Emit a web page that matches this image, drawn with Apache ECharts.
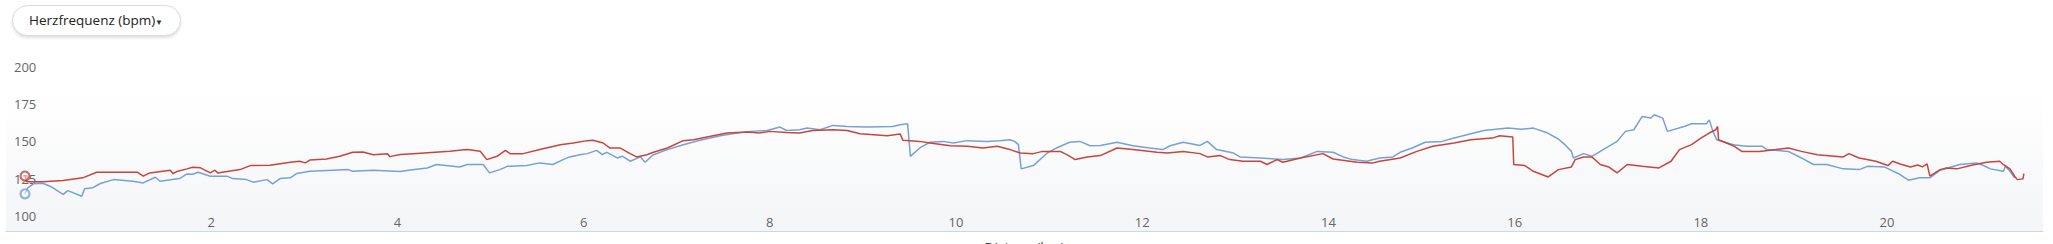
<!DOCTYPE html>
<html>
<head>
<meta charset="utf-8">
<script src="https://cdn.jsdelivr.net/npm/echarts@6/dist/echarts.min.js"></script>
<style>
  html, body { margin: 0; padding: 0; background: #fff; overflow: hidden; }
  #chart { width: 2053px; height: 244px; position: absolute; left: 0; top: 0; }
  #btn {
    position: absolute; left: 12px; top: 5px; width: 167px; height: 29px;
    border: 1px solid #dcdcdc; border-radius: 16px; background: #fff;
    box-shadow: 0 2px 3px rgba(0,0,0,0.12);
    font-family: "Open Sans", sans-serif; font-size: 13.5px; color: #222;
    line-height: 29px; box-sizing: content-box; z-index: 2;
  }
  #btn .lbl { position: absolute; left: 16px; top: 0; }
  #btn .arr { position: absolute; left: 142px; top: 1px; font-size: 8px; color: #333; }
</style>
</head>
<body>
<div id="chart"></div>
<div id="btn"><span class="lbl">Herzfrequenz (bpm)</span><span class="arr">&#9660;</span></div>
<script>
const yTickLabels = [100, 125, 150, 175, 200];
const xTickLabels = [2, 4, 6, 8, 10, 12, 14, 16, 18, 20];
const xAxisName = 'Distanz (km)';

const redKm = [0.00,0.02,0.19,0.41,0.62,0.77,1.21,1.27,1.34,1.56,1.59,1.63,1.74,1.80,1.88,1.99,2.04,2.07,2.17,2.31,2.42,2.63,2.85,2.95,3.01,3.06,3.24,3.38,3.52,3.63,3.74,3.89,3.92,4.03,
  4.17,4.56,4.75,4.89,4.96,5.07,5.16,5.21,5.35,5.53,5.75,5.89,6.04,6.10,6.21,6.28,6.39,6.50,6.57,6.68,6.75,6.90,7.07,7.18,7.39,7.54,7.76,7.89,8.00,8.18,8.32,8.46,8.68,8.83,8.97,9.26,9.40,9.43,
  9.61,9.72,9.94,10.12,10.29,10.44,10.58,10.69,10.83,10.93,11.12,11.19,11.28,11.41,11.55,11.73,11.90,12.16,12.27,12.44,12.62,12.70,12.84,12.94,13.08,13.27,13.34,13.45,13.51,13.70,13.94,14.05,14.31,14.48,14.55,14.77,
  14.95,15.12,15.35,15.53,15.76,15.84,15.98,15.99,16.11,16.20,16.34,16.36,16.47,16.61,16.65,16.74,16.83,16.92,17.01,17.10,17.21,17.37,17.55,17.68,17.77,17.90,18.00,18.09,18.16,18.18,18.19,18.36,18.44,18.63,18.81,18.94,19.08,19.25,19.53,19.59,19.70,19.88,20.01,20.06,
  20.14,20.25,20.33,20.38,20.43,20.46,20.57,20.64,20.75,20.92,21.07,21.21,21.24,21.32,21.37,21.40,21.46,21.47];
const redHr = [126.8,123,123,123.8,125.6,129.3,129.3,126.7,128.9,130.7,128.5,129.8,131.6,132.7,132.4,128.9,130.7,128.9,129.8,131.1,133.8,134,136,136.7,135.6,137.5,138.2,140,142.7,142.9,141.1,141.8,139.8,141.2,
  141.8,143.4,144.5,143.4,137.8,140,144,141.8,141.8,144.5,147.8,148.9,150.5,150.7,148.9,145.6,145.6,141.8,139.6,141.1,142.7,145.6,150.5,151.1,153.8,155.6,156.2,155.6,156.7,156,155.6,157.3,157.8,157.3,155.1,153.8,155,150.7,
  150,148.9,147.1,146.7,145.6,146.7,144.5,142.2,141.8,143.3,143.3,141.1,137.8,139.6,140.5,145.6,144.5,142.7,142.2,143.3,141.8,139.6,140.5,137.8,136.7,136.7,134.5,137.8,136,138.9,141.8,138.2,136,135.6,136.7,138.9,
  143.3,146.7,148.9,151.1,152.2,153.8,152.9,134.5,133.8,130,126.7,126.2,131.1,132.9,137.8,139.6,139.6,134.5,132.9,128.9,134.5,133.3,132.2,136.7,144.5,147.8,152.2,155.6,157.8,160,151.1,146.7,143.3,143.3,144.5,145.6,143.3,141.1,139.6,141.8,138.9,136.7,133.8,136.7,
  134.9,132.9,134.2,132.9,134.9,126.7,131.1,132.2,131.6,134.2,136,136.7,135,131.6,126.7,124.4,124.9,128.4];

const blueKm = [0.00,0.03,0.09,0.19,0.27,0.41,0.46,0.61,0.64,0.73,0.81,0.95,1.16,1.27,1.40,1.45,1.66,1.74,1.80,1.86,1.99,2.17,2.23,2.38,2.45,2.60,2.66,2.74,2.85,2.92,3.06,3.31,3.47,3.52,3.74,4.03,
  4.14,4.32,4.42,4.67,4.75,4.92,4.99,5.10,5.18,5.39,5.53,5.67,5.78,5.85,5.96,6.04,6.14,6.20,6.25,6.36,6.42,6.50,6.61,6.66,6.75,6.90,7.07,7.25,7.47,7.60,7.79,7.97,8.11,8.18,8.32,8.40,8.54,8.68,8.83,9.04,9.32,9.40,
  9.48,9.51,9.61,9.72,9.86,9.97,10.12,10.33,10.47,10.58,10.63,10.67,10.70,10.83,10.98,11.08,11.22,11.33,11.44,11.55,11.73,11.90,12.08,12.22,12.30,12.44,12.62,12.70,12.80,12.98,13.05,13.27,13.51,13.70,13.88,14.05,14.16,14.26,14.41,14.55,14.69,14.77,
  14.90,15.04,15.22,15.35,15.53,15.67,15.93,16.07,16.20,16.34,16.47,16.54,16.61,16.63,16.74,16.83,16.92,17.10,17.19,17.28,17.37,17.46,17.50,17.59,17.64,17.82,17.90,18.06,18.09,18.13,18.17,18.35,18.49,18.66,18.71,18.94,19.08,19.21,19.35,19.53,19.70,19.79,19.97,
  20.14,20.23,20.35,20.46,20.57,20.78,20.96,21.03,21.11,21.25,21.27,21.32,21.37];
const blueHr = [114.9,118.9,121.6,122,120,114.5,117,113.3,118.3,119,121.8,124.4,123.3,122.2,126,123.3,125.1,128.2,128,129.3,126.7,126.7,125.1,124.4,122.7,124.4,121.6,125.1,125.6,128.5,130,130.7,131.1,130,130.7,129.8,
  130.9,132.2,134.5,132.9,134.5,134.5,128.9,131.1,133.3,133.8,135.6,134.5,137.8,139.6,141.1,141.8,144,141.1,142.7,138.9,140,136.7,139.6,136,141.1,144.5,147.8,150.7,153.8,155.1,156.7,157.3,159.6,157.3,157.8,158.9,157.8,160.7,160,159.6,160,161.1,
  161.8,140,145.6,149.4,150,148.9,150.5,150,150.5,151.1,150,147.8,131.6,133.8,142.2,145.6,149.4,150,147.1,147.3,149.4,147.1,145.6,144.5,147.1,149.4,147.3,150,144.5,142.2,139.6,138.9,137.8,138.9,143.3,142.7,139.6,137.8,136.7,138.9,139.6,142.7,
  145.6,149.4,150,152.2,155.1,157.3,158.9,158.2,158.9,156,151.6,147.8,143.3,138.9,141.8,140,143.3,150,156.7,157.8,166.7,165.6,167.8,165.6,156.7,160,161.8,161.8,164.4,156.7,151.1,147.8,146.7,146.7,144.5,143.3,138.9,134.5,134.5,131.6,131.1,133.3,132.9,
  127.8,124,125.6,125.6,130.7,134.5,135.6,134,131.6,130,133.3,130,125.6];

const RED = '#c9453c';
const BLUE = '#77a1d5';

const zip = (xs, ys) => xs.map((x, i) => [x, ys[i]]);

const chart = echarts.init(document.getElementById('chart'), null, { renderer: 'svg' });
chart.setOption({
  animation: false,
  backgroundColor: '#ffffff',
  textStyle: { fontFamily: '"Open Sans", sans-serif' },
  graphic: [{
    type: 'rect', z: -10, silent: true,
    shape: { x: 6, y: 93, width: 2037, height: 138 },
    style: { fill: new echarts.graphic.LinearGradient(0, 0, 0, 1, [
      { offset: 0, color: '#ffffff' }, { offset: 1, color: '#f4f5f7' }]) }
  }],
  grid: { left: 6, right: 10, top: 66.7, bottom: 13, containLabel: false, outerBoundsMode: 'none' },
  xAxis: {
    type: 'value', min: -0.204, max: 21.675,
    name: xAxisName, nameLocation: 'middle', nameGap: 9,
    nameTextStyle: { color: '#444', fontSize: 14, verticalAlign: 'top' },
    axisLine: { show: true, lineStyle: { color: '#ccd6eb', width: 1 } },
    axisTick: { show: false },
    splitLine: { show: false },
    axisLabel: { inside: true, margin: 3, color: '#666', fontSize: 13, customValues: xTickLabels }
  },
  yAxis: {
    type: 'value', min: 90, max: 200,
    axisLine: { show: false }, axisTick: { show: false }, splitLine: { show: false },
    axisLabel: { inside: true, margin: 8, color: '#666', fontSize: 13, customValues: yTickLabels, align: 'left' }
  },
  series: [
    { type: 'line', data: zip(redKm, redHr), showSymbol: false, symbol: 'none',
      lineStyle: { color: RED, width: 1.5 }, z: 3 },
    { type: 'line', data: zip(blueKm, blueHr), showSymbol: false, symbol: 'none',
      lineStyle: { color: BLUE, width: 1.5 }, z: 2 },
    { type: 'scatter', data: [[redKm[0], redHr[0]]], symbol: 'circle', symbolSize: 9,
      itemStyle: { color: 'rgba(255,255,255,0.6)', borderColor: RED, borderWidth: 2.2 }, z: 5 },
    { type: 'scatter', data: [[blueKm[0], blueHr[0]]], symbol: 'circle', symbolSize: 9,
      itemStyle: { color: 'rgba(255,255,255,0.6)', borderColor: BLUE, borderWidth: 2.2 }, z: 5 }
  ]
});
</script>
</body>
</html>
